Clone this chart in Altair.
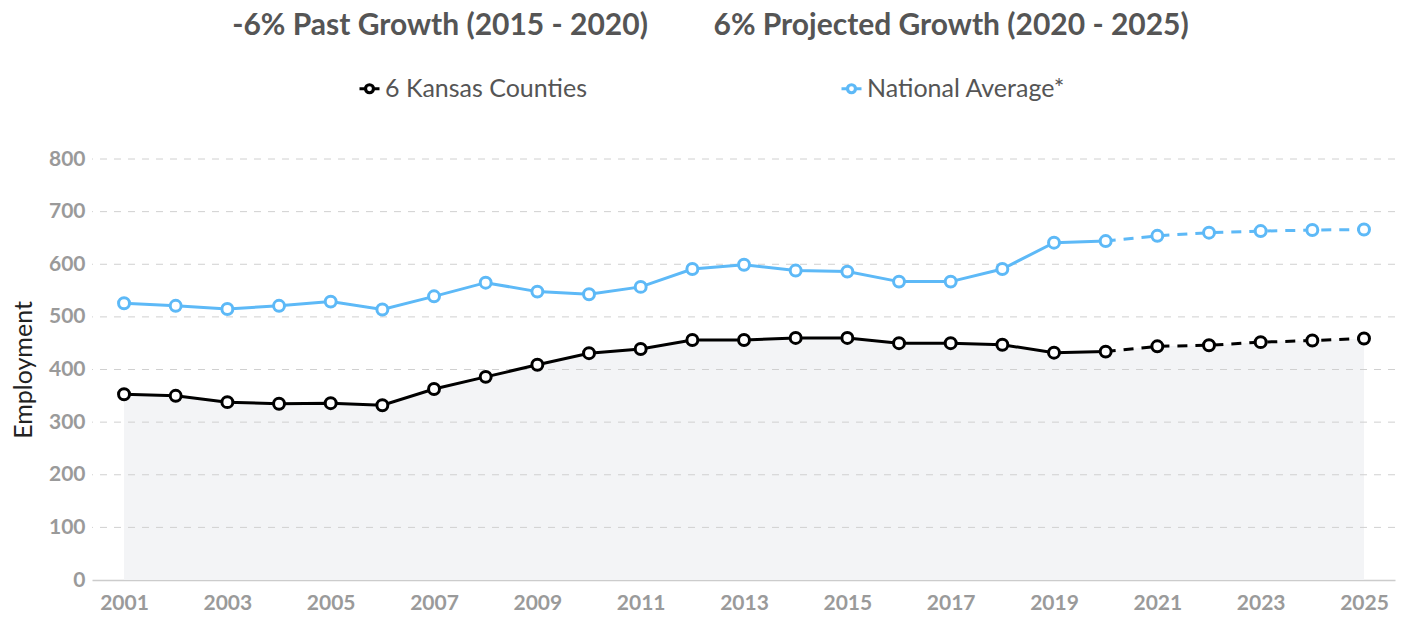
import altair as alt
import pandas as pd

years = list(range(2001, 2026))
kansas = [353, 350, 338, 335, 336, 332, 363, 386, 409, 431, 439, 456, 456,
          460, 460, 450, 450, 447, 432, 434, 444, 446, 452, 455, 459]
national = [526, 521, 515, 521, 529, 514, 539, 565, 548, 543, 557, 591, 599,
            588, 586, 567, 567, 591, 641, 644, 654, 660, 663, 665, 666]
series_names = ["6 Kansas Counties", "National Average*"]
series_colors = ["#000000", "#5db9f7"]
y_ticks = [0, 100, 200, 300, 400, 500, 600, 700, 800]
x_ticks = [2001, 2003, 2005, 2007, 2009, 2011, 2013, 2015, 2017, 2019, 2021, 2023, 2025]
last_actual = 2020
title_left = "-6% Past Growth (2015 - 2020)"
title_right = "6% Projected Growth (2020 - 2025)"

rows = []
for name, vals in zip(series_names, [kansas, national]):
    for yr, v in zip(years, vals):
        rows.append({"year": yr, "value": v, "series": name})
df = pd.DataFrame(rows)
df_k = df[df.series == series_names[0]]
df_past = df[df.year <= last_actual]
df_proj = df[df.year >= last_actual]
grid_df = pd.DataFrame({"value": y_ticks[1:]})

legend_symbol = ("M-1,0H-0.4M0.4,0H1"
                 "M-0.4,0A0.4,0.4,0,1,1,0.4,0A0.4,0.4,0,1,1,-0.4,0Z")

x_enc = alt.X("year:Q",
              scale=alt.Scale(domain=[2000.38, 2025.6], nice=False, zero=False),
              axis=alt.Axis(values=x_ticks, format="d", title=None, grid=False,
                            ticks=False, labelPadding=12, domainColor="#cccccc",
                            domainWidth=1.5))
y_enc = alt.Y("value:Q",
              scale=alt.Scale(domain=[0, 800], nice=False),
              axis=alt.Axis(values=y_ticks, title="Employment", grid=False,
                            ticks=False, domain=False, labelPadding=7,
                            titlePadding=12, titleFontSize=25,
                            titleFont="Lato", titleColor="#222222",
                            titleFontWeight="normal"))
stroke_enc = alt.Stroke("series:N",
                        scale=alt.Scale(domain=series_names, range=series_colors),
                        legend=alt.Legend(title=None, orient="none",
                                          legendX=265, legendY=-83,
                                          direction="horizontal", columns=2,
                                          columnPadding=247, padding=0,
                                          symbolType=legend_symbol,
                                          symbolSize=400,
                                          symbolFillColor="white",
                                          symbolStrokeWidth=3.2,
                                          labelFont="Lato", labelFontSize=25,
                                          labelLimit=400,
                                          labelColor="#555555", labelOffset=3))

area = alt.Chart(df_k).mark_area(color="#f3f4f6").encode(x=x_enc, y=y_enc)
grid = alt.Chart(grid_df).mark_rule(color="#d0d0d0", strokeDash=[7, 7],
                                    strokeWidth=1).encode(y=y_enc)
past = alt.Chart(df_past).mark_line(strokeWidth=3).encode(
    x=x_enc, y=y_enc, stroke=stroke_enc, detail="series:N")
proj = alt.Chart(df_proj).mark_line(strokeWidth=3, strokeDash=[10, 8]).encode(
    x=x_enc, y=y_enc, stroke=stroke_enc, detail="series:N")
pts = alt.Chart(df).mark_circle(size=120, fill="white", strokeWidth=3,
                                opacity=1).encode(
    x=x_enc, y=y_enc, stroke=stroke_enc)

chart = alt.layer(area, grid, past, proj, pts).properties(
    width=1303, height=421,
    autosize=alt.AutoSizeParams(type="none"),
    padding={"left": 92, "top": 159, "right": 8, "bottom": 44},
    title=alt.TitleParams(text=title_left + "\u00a0" * 9 + title_right,
                          font="Lato", fontSize=30, fontWeight="bold",
                          color="#555555", anchor="middle", frame="group",
                          offset=35, dx=-33),
).configure_view(stroke=None).configure_axis(
    labelFont="Lato", labelFontSize=21, labelFontWeight="bold",
    labelColor="#9a9a9a")

chart.save("out.html", embed_options={"renderer": "svg", "actions": False})
